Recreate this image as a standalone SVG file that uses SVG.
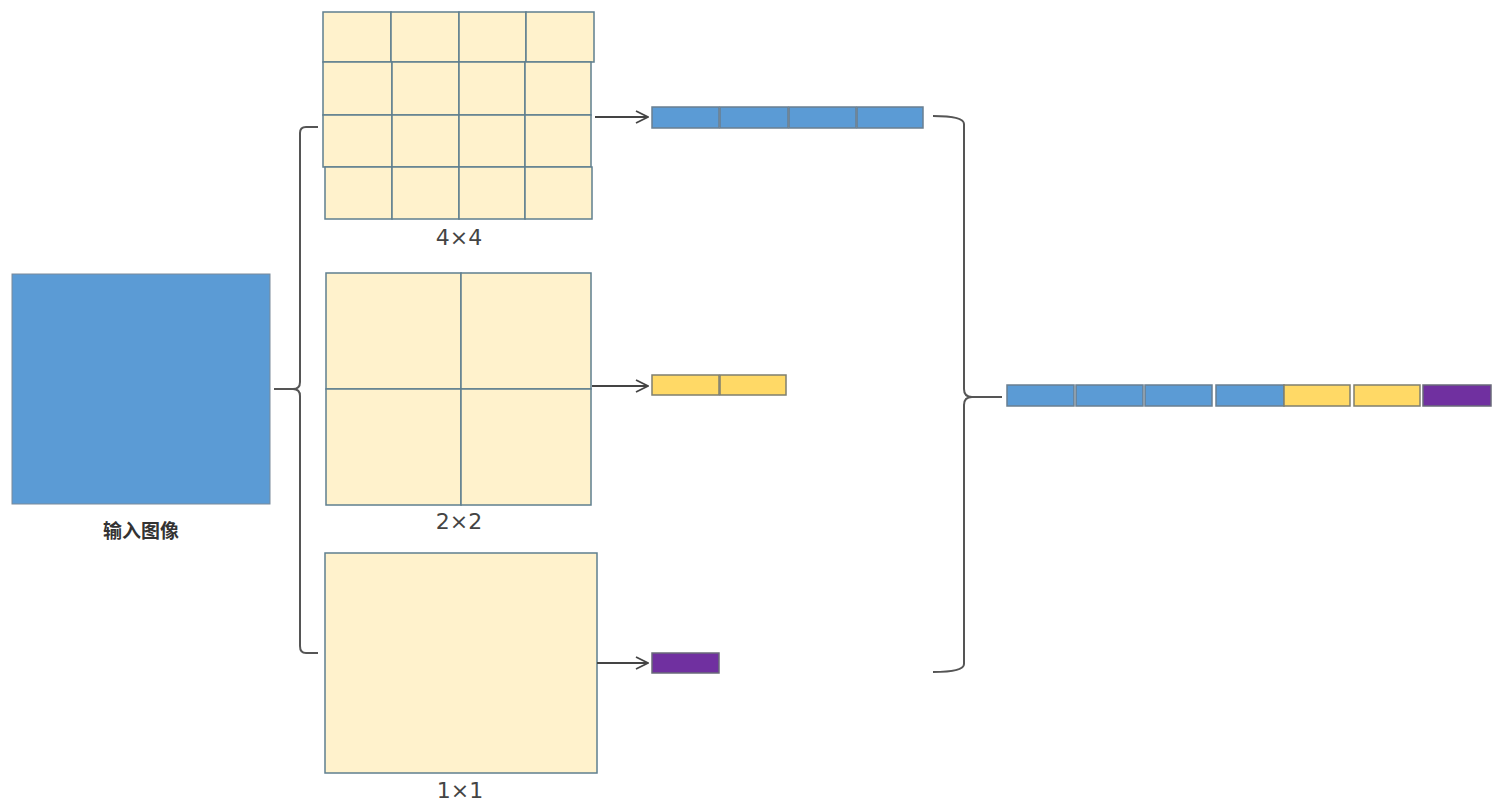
<svg xmlns="http://www.w3.org/2000/svg" width="1499" height="805" viewBox="0 0 1499 805">
<defs>
<style>
.cell{fill:#FFF2CC;stroke:#5F7F8F;stroke-width:1.5}
.blue{fill:#5B9BD5;stroke:#6A7F90;stroke-width:1.5}
.yel{fill:#FFD966;stroke:#7F7F6F;stroke-width:1.5}
.pur{fill:#7030A0;stroke:#6A6A7A;stroke-width:1.5}
.br{fill:none;stroke:#555;stroke-width:2}
.arr{fill:none;stroke:#444;stroke-width:1.8}
.lbl{font-family:"DejaVu Sans","Liberation Sans",sans-serif;font-size:22px;fill:#444;text-anchor:middle}
.cn{font-family:"Noto Sans CJK SC",sans-serif;font-size:19px;fill:#333;text-anchor:middle;font-weight:bold}
</style>
<marker id="ah" viewBox="0 0 14 14" refX="13" refY="7" markerWidth="14" markerHeight="14" markerUnits="userSpaceOnUse" orient="auto">
<path d="M1,1 L13,7 L1,13" fill="none" stroke="#444" stroke-width="1.8"/>
</marker>
</defs>
<rect width="1499" height="805" fill="#fff"/>

<g id="input">
<rect x="12" y="274" width="258" height="230" fill="#5B9BD5" stroke="#7A8A9A" stroke-width="1"/>
<text class="cn" x="141" y="538">输入图像</text>
</g>

<g id="grid4">
<rect class="cell" x="323" y="12" width="68" height="50"/>
<rect class="cell" x="391" y="12" width="68" height="50"/>
<rect class="cell" x="459" y="12" width="67" height="50"/>
<rect class="cell" x="526" y="12" width="68" height="50"/>
<rect class="cell" x="323" y="62" width="69" height="53"/>
<rect class="cell" x="392" y="62" width="67" height="53"/>
<rect class="cell" x="459" y="62" width="66" height="53"/>
<rect class="cell" x="525" y="62" width="66" height="53"/>
<rect class="cell" x="323" y="115" width="69" height="52"/>
<rect class="cell" x="392" y="115" width="67" height="52"/>
<rect class="cell" x="459" y="115" width="66" height="52"/>
<rect class="cell" x="525" y="115" width="66" height="52"/>
<rect class="cell" x="325" y="167" width="67" height="52"/>
<rect class="cell" x="392" y="167" width="67" height="52"/>
<rect class="cell" x="459" y="167" width="66" height="52"/>
<rect class="cell" x="525" y="167" width="67" height="52"/>
<text class="lbl" x="459" y="245">4×4</text>
</g>

<g id="grid2">
<rect class="cell" x="326" y="273" width="135" height="116"/>
<rect class="cell" x="461" y="273" width="130" height="116"/>
<rect class="cell" x="326" y="389" width="135" height="116"/>
<rect class="cell" x="461" y="389" width="130" height="116"/>
<text class="lbl" x="459" y="529">2×2</text>
</g>

<g id="grid1">
<rect class="cell" x="325" y="553" width="272" height="220"/>
<text class="lbl" x="460" y="798">1×1</text>
</g>

<g id="vec4">
<rect class="blue" x="652" y="107" width="67" height="21"/>
<rect class="blue" x="720" y="107" width="68" height="21"/>
<rect class="blue" x="789" y="107" width="67" height="21"/>
<rect class="blue" x="857" y="107" width="66" height="21"/>
</g>

<g id="vec2">
<rect class="yel" x="652" y="375" width="67" height="20"/>
<rect class="yel" x="720" y="375" width="66" height="20"/>
</g>

<g id="vec1">
<rect class="pur" x="652" y="653" width="67" height="20"/>
</g>

<g id="out">
<rect class="blue" x="1007" y="385" width="67" height="21"/>
<rect class="blue" x="1076" y="385" width="67" height="21"/>
<rect class="blue" x="1145" y="385" width="67" height="21"/>
<rect class="blue" x="1216" y="385" width="68" height="21"/>
<rect class="yel" x="1284" y="385" width="66" height="21"/>
<rect class="yel" x="1354" y="385" width="66" height="21"/>
<rect class="pur" x="1423" y="385" width="68" height="21"/>
</g>

<g id="connectors">
<path class="br" d="M318,127 L306,127 Q300,127 300,133 L300,382 Q300,389 293,389 L274,389 M293,389 Q300,389 300,396 L300,646 Q300,653 306,653 L318,653"/>
<path class="br" d="M933,116 Q964,116 964,124 L964,389 Q964,397 972,397 L1002,397 M972,397 Q964,397 964,405 L964,664 Q964,672 933,672"/>
<line class="arr" x1="595" y1="117" x2="648" y2="117" marker-end="url(#ah)"/>
<line class="arr" x1="592" y1="386" x2="648" y2="386" marker-end="url(#ah)"/>
<line class="arr" x1="597" y1="663" x2="648" y2="663" marker-end="url(#ah)"/>
</g>
</svg>
